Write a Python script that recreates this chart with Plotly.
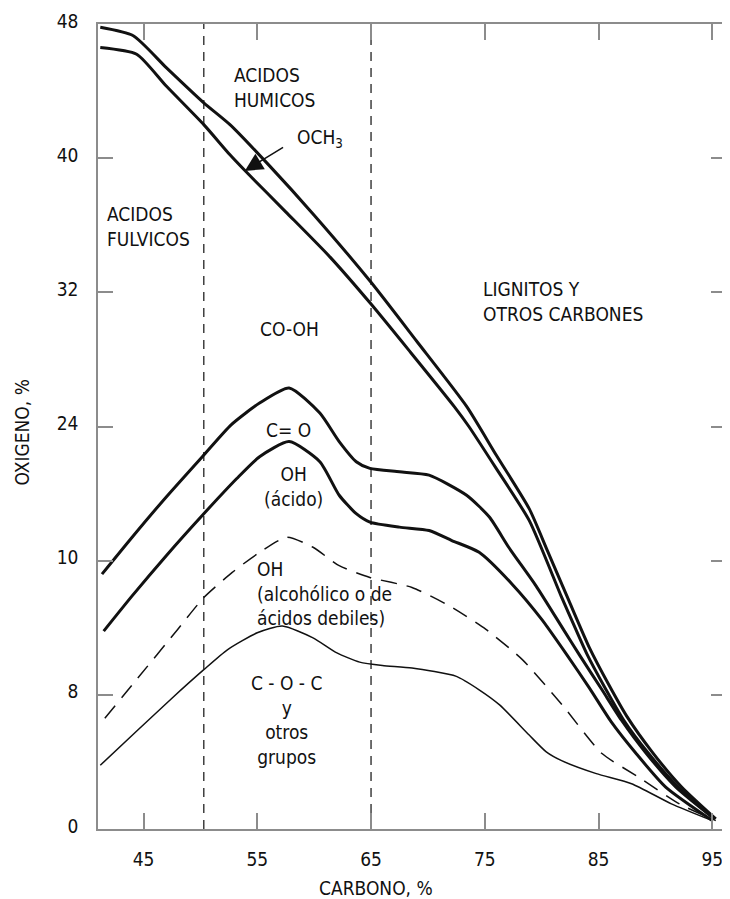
import plotly.graph_objects as go

# ---------------- data ----------------
x_ticks = [45, 55, 65, 75, 85, 95]
y_tickvals = [0, 8, 16, 24, 32, 40, 48]
y_ticktext = ["0", "8", "10", "24", "32", "40", "48"]

divisions = [50.3, 65.0]

x_och3_top = [41.2, 44.1, 47.0, 50.3, 52.6, 56.0, 60.0, 65.0, 69.0, 73.4, 76.0, 78.9, 80.5, 82.4, 84.2, 85.9, 87.5, 89.7, 92.3, 95.3]
y_och3_top = [47.8, 47.3, 45.4, 43.3, 42.0, 39.6, 36.6, 32.6, 29.1, 25.2, 22.3, 19.1, 16.6, 13.6, 10.8, 8.6, 6.7, 4.6, 2.5, 0.6]

x_och3_bot = [41.2, 44.4, 47.0, 50.3, 52.6, 54.0, 57.5, 61.4, 65.0, 68.5, 72.3, 73.6, 76.0, 78.9, 81.7, 83.0, 84.0, 85.5, 87.2, 89.4, 92.0, 95.2]
y_och3_bot = [46.6, 46.2, 44.3, 42.0, 40.2, 39.2, 36.8, 34.1, 31.3, 28.4, 25.2, 24.0, 21.5, 18.4, 13.9, 11.9, 10.4, 8.5, 6.5, 4.5, 2.5, 0.6]

x_co = [41.35, 44.0, 47.0, 50.3, 52.7, 55.2, 57.8, 60.5, 62.2, 63.7, 64.9, 67.5, 70.1, 73.4, 75.4, 77.1, 79.5, 82.0, 83.3, 85.3, 87.0, 89.2, 91.8, 95.2]
y_co = [15.2, 17.4, 19.8, 22.3, 24.1, 25.4, 26.3, 24.8, 23.1, 21.9, 21.5, 21.3, 21.1, 19.9, 18.6, 16.8, 14.5, 11.8, 10.4, 8.3, 6.5, 4.5, 2.5, 0.6]

x_oh = [41.5, 44.0, 47.0, 50.3, 53.2, 55.2, 57.8, 60.5, 62.2, 63.7, 64.9, 67.5, 70.1, 72.1, 74.5, 77.4, 80.0, 82.2, 84.2, 86.1, 88.3, 90.9, 95.0]
y_oh = [11.8, 13.9, 16.3, 18.8, 20.9, 22.2, 23.1, 21.9, 19.9, 18.8, 18.3, 18.0, 17.8, 17.2, 16.5, 14.6, 12.5, 10.4, 8.4, 6.4, 4.5, 2.5, 0.5]

x_alc = [41.6, 44.5, 48.0, 50.3, 52.8, 55.0, 57.6, 59.9, 62.2, 64.9, 68.6, 71.9, 75.1, 78.3, 81.8, 85.3, 88.5, 92.1, 95.3]
y_alc = [6.6, 9.0, 11.9, 13.8, 15.3, 16.4, 17.4, 16.8, 15.7, 15.0, 14.4, 13.3, 11.9, 10.1, 7.4, 4.5, 3.1, 1.5, 0.5]

x_coc = [41.2, 44.5, 47.5, 50.3, 52.4, 55.0, 57.2, 59.9, 62.0, 64.0, 66.0, 68.6, 72.5, 74.5, 76.3, 78.9, 80.4, 81.8, 84.8, 87.9, 91.4, 95.0]
y_coc = [3.8, 5.9, 7.8, 9.5, 10.7, 11.7, 12.1, 11.4, 10.5, 9.95, 9.75, 9.6, 9.1, 8.3, 7.4, 5.6, 4.6, 4.06, 3.3, 2.7, 1.5, 0.5]

# label blocks: (text, x, y, anchor)
labels = [
    ("ACIDOS<br>HUMICOS", 52.75, 44.2, "left"),
    ("OCH<sub>3</sub>", 58.28, 41.2, "left"),
    ("ACIDOS<br>FULVICOS", 41.6, 35.95, "left"),
    ("LIGNITOS Y<br>OTROS CARBONES", 74.7, 31.45, "left"),
    ("CO-OH", 57.85, 29.8, "center"),
    ("C= O", 57.75, 23.8, "center"),
    ("OH<br>(ácido)", 58.2, 20.45, "center"),
    ("OH<br>(alcohólico o de<br>ácidos debiles)", 54.77, 14.06, "left"),
    ("C - O - C<br>y<br>otros<br>grupos", 57.6, 6.5, "center"),
]

arrow_tip = (53.9, 39.24)
arrow_tail = (57.4, 40.7)

FONT = "DejaVu Sans Condensed, Liberation Sans Narrow, sans-serif"
AXC = "#8c8c8c"

fig = go.Figure()

for xv in divisions:
    fig.add_trace(go.Scatter(x=[xv, xv], y=[0, 48], mode="lines",
                             line=dict(color="#222", width=1.3, dash="9px,7px"),
                             hoverinfo="skip"))

thick = dict(color="#111", width=3, shape="spline", smoothing=0.6)
for xs, ys in [(x_och3_top, y_och3_top), (x_och3_bot, y_och3_bot), (x_co, y_co), (x_oh, y_oh)]:
    fig.add_trace(go.Scatter(x=xs, y=ys, mode="lines", line=thick))

fig.add_trace(go.Scatter(x=x_alc, y=y_alc, mode="lines",
                         line=dict(color="#111", width=1.5, dash="16px,10px", shape="spline", smoothing=0.6)))
fig.add_trace(go.Scatter(x=x_coc, y=y_coc, mode="lines",
                         line=dict(color="#111", width=1.5, shape="spline", smoothing=0.6)))

for txt, x, y, anc in labels:
    fig.add_annotation(x=x, y=y, text=txt, showarrow=False, xanchor=anc, yanchor="middle",
                       align=anc, font=dict(family=FONT, size=19, color="#111"))

fig.add_annotation(x=arrow_tip[0], y=arrow_tip[1], ax=arrow_tail[0], ay=arrow_tail[1],
                   axref="x", ayref="y", xref="x", yref="y", text="", showarrow=True,
                   arrowhead=2, arrowsize=2.4, arrowwidth=1.5, arrowcolor="#111", standoff=0)

# axis titles
fig.add_annotation(xref="paper", yref="paper", x=0.443, y=-0.073, text="CARBONO, %",
                   showarrow=False, xanchor="center", yanchor="middle",
                   font=dict(family=FONT, size=19, color="#111"))
fig.add_annotation(xref="paper", yref="paper", x=-0.121, y=0.4926, text="OXIGENO, %",
                   showarrow=False, xanchor="center", yanchor="middle", textangle=-90,
                   font=dict(family=FONT, size=19, color="#111"))

# page has an 8px body margin: figure is 722x891, plot area at page x 98-728, y 13-829
fig.update_layout(
    width=722, height=891,
    margin=dict(l=90, r=2, t=5, b=70),
    paper_bgcolor="white", plot_bgcolor="white",
    showlegend=False,
    font=dict(family=FONT, size=19, color="#111"),
)
fig.update_xaxes(range=[41, 96.2], tickvals=x_ticks, ticks="inside", ticklen=16, tickwidth=1.5,
                 tickcolor=AXC, showline=True, linecolor=AXC, linewidth=1.5, mirror="ticks",
                 showgrid=False, zeroline=False, ticklabelstandoff=12, ticklabeloverflow="allow",
                 tickfont=dict(family=FONT, size=19, color="#111"))
fig.update_yaxes(range=[0, 48], tickvals=y_tickvals, ticktext=y_ticktext, ticks="inside", ticklen=15,
                 tickwidth=1.5, tickcolor=AXC, showline=True, linecolor=AXC, linewidth=1.5,
                 mirror="ticks", showgrid=False, zeroline=False, ticklabelstandoff=14,
                 ticklabelshift=-3, ticklabeloverflow="allow",
                 tickfont=dict(family=FONT, size=19, color="#111"))

fig.write_html("out.html")
